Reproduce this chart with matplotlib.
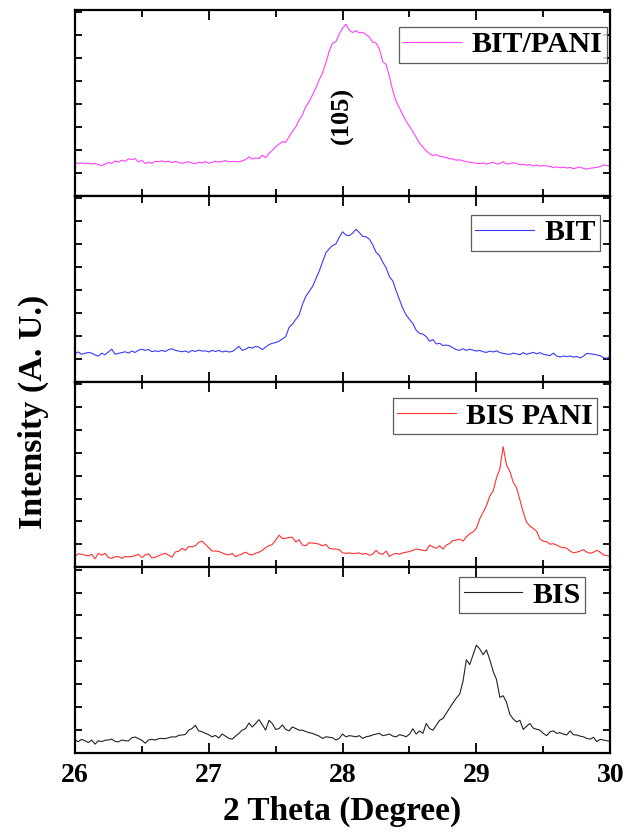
import numpy as np
import matplotlib
matplotlib.use('Agg')
import matplotlib.pyplot as plt
from matplotlib.ticker import MultipleLocator

plt.rcParams['font.family'] = ['Liberation Serif', 'DejaVu Serif']
plt.rcParams['font.weight'] = 'bold'

# scan grid: 2 theta from 26 to 30 deg in 0.025 deg steps
two_theta = np.round(np.arange(26.0, 30.0001, 0.025), 3)

# intensities (arbitrary units), one list per sample
bit_pani = [
    1.44, 1.41, 1.43, 1.40, 1.42, 1.39, 1.41, 1.36, 1.31, 1.38,
    1.45, 1.41, 1.52, 1.47, 1.55, 1.50, 1.61, 1.58, 1.62, 1.47,
    1.55, 1.40, 1.46, 1.42, 1.50, 1.49, 1.52, 1.48, 1.51, 1.44,
    1.50, 1.46, 1.41, 1.45, 1.49, 1.43, 1.40, 1.47, 1.43, 1.49,
    1.42, 1.46, 1.51, 1.47, 1.50, 1.53, 1.48, 1.50, 1.49, 1.48,
    1.52, 1.58, 1.70, 1.60, 1.65, 1.62, 1.77, 1.66, 1.85, 1.98,
    2.14, 2.25, 2.36, 2.33, 2.58, 2.80, 3.00, 3.30, 3.53, 3.90,
    4.10, 4.40, 4.70, 5.05, 5.36, 5.80, 6.30, 6.65, 6.72, 7.05,
    7.30, 7.48, 7.22, 7.12, 7.20, 7.10, 7.13, 7.03, 6.92, 6.70,
    6.66, 6.40, 5.85, 5.72, 5.20, 4.58, 4.12, 3.82, 3.53, 3.25,
    3.02, 2.80, 2.55, 2.30, 2.12, 1.96, 1.83, 1.76, 1.79, 1.72,
    1.70, 1.66, 1.62, 1.60, 1.55, 1.57, 1.52, 1.49, 1.46, 1.44,
    1.42, 1.40, 1.43, 1.38, 1.42, 1.47, 1.39, 1.40, 1.49, 1.38,
    1.40, 1.44, 1.41, 1.35, 1.38, 1.33, 1.36, 1.30, 1.34, 1.29,
    1.32, 1.30, 1.28, 1.23, 1.26, 1.22, 1.25, 1.21, 1.24, 1.18,
    1.22, 1.26, 1.19, 1.16, 1.20, 1.22, 1.24, 1.27, 1.35, 1.31,
    1.33,
]
bit = [
    1.21, 1.29, 1.19, 1.23, 1.27, 1.24, 1.16, 1.11, 1.24, 1.17,
    1.29, 1.41, 1.19, 1.23, 1.26, 1.30, 1.24, 1.33, 1.27, 1.37,
    1.41, 1.36, 1.40, 1.30, 1.34, 1.31, 1.36, 1.31, 1.39, 1.43,
    1.36, 1.33, 1.30, 1.33, 1.27, 1.36, 1.31, 1.37, 1.33, 1.34,
    1.29, 1.36, 1.31, 1.36, 1.29, 1.33, 1.29, 1.31, 1.41, 1.53,
    1.36, 1.41, 1.50, 1.46, 1.53, 1.50, 1.39, 1.50, 1.61, 1.67,
    1.70, 1.76, 1.86, 1.96, 2.36, 2.50, 2.71, 2.90, 3.36, 3.71,
    3.93, 4.14, 4.47, 4.81, 5.21, 5.61, 5.79, 5.93, 6.00, 6.29,
    6.53, 6.39, 6.36, 6.47, 6.64, 6.50, 6.33, 6.31, 6.21, 5.96,
    5.64, 5.50, 5.21, 4.96, 4.57, 4.39, 3.96, 3.57, 3.19, 2.90,
    2.71, 2.53, 2.24, 2.10, 2.07, 1.96, 1.76, 1.83, 1.64, 1.67,
    1.57, 1.59, 1.56, 1.47, 1.39, 1.36, 1.43, 1.36, 1.41, 1.37,
    1.33, 1.36, 1.30, 1.27, 1.33, 1.29, 1.34, 1.26, 1.23, 1.20,
    1.19, 1.24, 1.21, 1.17, 1.26, 1.19, 1.23, 1.27, 1.21, 1.26,
    1.19, 1.16, 1.13, 1.24, 1.11, 1.07, 1.11, 1.09, 1.11, 1.07,
    1.09, 1.03, 1.11, 1.23, 1.21, 1.19, 1.16, 1.13, 1.04, 1.01,
    1.13,
]
bis_pani = [
    0.47, 0.59, 0.57, 0.53, 0.50, 0.57, 0.37, 0.61, 0.53, 0.61,
    0.43, 0.39, 0.46, 0.47, 0.39, 0.47, 0.46, 0.47, 0.51, 0.57,
    0.43, 0.54, 0.59, 0.41, 0.44, 0.50, 0.57, 0.61, 0.53, 0.44,
    0.67, 0.70, 0.83, 0.74, 0.91, 0.89, 0.94, 1.09, 1.14, 1.00,
    0.86, 0.71, 0.71, 0.69, 0.63, 0.57, 0.54, 0.61, 0.46, 0.53,
    0.59, 0.66, 0.57, 0.54, 0.61, 0.66, 0.74, 0.86, 0.94, 1.00,
    1.19, 1.40, 1.26, 1.27, 1.30, 1.31, 1.11, 1.20, 0.97, 0.94,
    1.07, 1.06, 1.04, 1.01, 0.94, 1.00, 0.83, 0.80, 0.80, 0.77,
    0.63, 0.61, 0.63, 0.60, 0.61, 0.63, 0.57, 0.60, 0.53, 0.57,
    0.74, 0.60, 0.57, 0.71, 0.47, 0.57, 0.61, 0.57, 0.63, 0.66,
    0.69, 0.74, 0.80, 0.77, 0.74, 0.73, 0.97, 0.89, 0.83, 0.94,
    0.80, 0.97, 1.04, 1.17, 1.19, 1.23, 1.14, 1.33, 1.46, 1.54,
    1.71, 2.11, 2.40, 2.69, 3.11, 3.33, 3.90, 4.29, 5.26, 4.46,
    4.19, 3.71, 3.47, 2.94, 2.40, 1.97, 1.80, 1.69, 1.57, 1.23,
    1.14, 1.11, 1.01, 1.03, 0.97, 0.89, 0.86, 0.83, 0.71, 0.63,
    0.66, 0.71, 0.77, 0.66, 0.61, 0.66, 0.74, 0.66, 0.54, 0.51,
    0.49,
]
bis = [
    0.57, 0.50, 0.60, 0.54, 0.46, 0.57, 0.39, 0.54, 0.50, 0.56,
    0.57, 0.61, 0.51, 0.49, 0.57, 0.54, 0.53, 0.67, 0.70, 0.63,
    0.56, 0.43, 0.57, 0.60, 0.57, 0.63, 0.64, 0.63, 0.67, 0.71,
    0.70, 0.77, 0.79, 0.81, 1.00, 1.07, 1.21, 0.97, 0.93, 0.86,
    0.80, 0.71, 0.77, 0.66, 0.83, 0.74, 0.64, 0.61, 0.74, 0.86,
    1.00, 1.07, 1.31, 1.14, 1.29, 1.46, 1.24, 1.00, 1.43, 1.29,
    1.03, 1.07, 1.23, 1.03, 0.97, 1.14, 1.07, 1.00, 1.00, 0.94,
    0.89, 0.86, 0.80, 0.74, 0.64, 0.71, 0.69, 0.67, 0.57, 0.64,
    0.83, 0.71, 0.76, 0.74, 0.71, 0.76, 0.64, 0.71, 0.74, 0.79,
    0.83, 0.86, 0.76, 0.79, 0.83, 0.74, 0.71, 0.80, 0.77, 0.71,
    0.83, 1.06, 0.83, 0.97, 0.86, 1.29, 1.07, 1.00, 1.21, 1.43,
    1.51, 1.74, 1.97, 2.19, 2.40, 2.57, 3.14, 4.07, 3.86, 4.29,
    4.71, 4.54, 4.29, 4.50, 4.07, 3.57, 3.21, 2.43, 2.50, 2.21,
    1.69, 1.49, 1.36, 1.43, 1.03, 1.17, 1.29, 1.09, 1.04, 1.00,
    0.86, 0.76, 0.93, 0.97, 0.86, 0.89, 0.83, 0.79, 0.97, 0.80,
    0.79, 0.74, 0.71, 0.64, 0.61, 0.69, 0.50, 0.60, 0.57, 0.54,
    0.50,
]

series = [bit_pani, bit, bis_pani, bis]
names = ['BIT/PANI', 'BIT', 'BIS PANI', 'BIS']
colors = ['#ff40ff', '#3a3aff', '#ff3030', '#222222']
# legend box corner (upper right) in axes coords for each panel
leg_anchor = [(0.994, 0.909), (0.981, 0.898), (0.976, 0.909), (0.953, 0.946)]

fig, axes = plt.subplots(4, 1, sharex=True, figsize=(6.35, 8.34), dpi=100)
fig.subplots_adjust(left=0.118, right=0.961, top=0.988, bottom=0.097, hspace=0)

for ax, y, name, c, anc in zip(axes, series, names, colors, leg_anchor):
    ax.plot(two_theta, y, color=c, lw=0.8, label=name)
    ax.set_xlim(26, 30)
    ax.set_ylim(0, 8.1)
    ax.yaxis.set_major_locator(MultipleLocator(1))
    ax.xaxis.set_major_locator(MultipleLocator(1))
    ax.xaxis.set_minor_locator(MultipleLocator(0.5))
    ax.tick_params(which='both', direction='in', top=True, right=True,
                   width=1.3, labelleft=False)
    ax.tick_params(axis='y', which='major', length=5)
    ax.tick_params(axis='x', which='major', length=7)
    ax.tick_params(axis='x', which='minor', length=5)
    for s in ax.spines.values():
        s.set_linewidth(1.6)
    leg = ax.legend(loc='upper right', bbox_to_anchor=anc, frameon=True,
                    fancybox=False, borderaxespad=0, borderpad=0.15,
                    handlelength=1.95, handletextpad=0.35,
                    prop={'family': 'Liberation Serif', 'weight': 'bold', 'size': 21.5})
    leg.get_frame().set_edgecolor('#333333')
    leg.get_frame().set_linewidth(0.9)

axes[-1].tick_params(axis='x', labelsize=20, pad=7)
for lab in axes[-1].get_xticklabels():
    lab.set_fontweight('bold')

# peak index on the BIT/PANI trace
axes[0].text(28.0, 3.5, '(105)', rotation=90, ha='center', va='center',
             fontsize=19, fontweight='bold')

axes[-1].set_xlabel('2 Theta (Degree)', fontsize=24, fontweight='bold', labelpad=6)
fig.text(0.052, 0.506, 'Intensity (A. U.)', rotation=90, ha='center', va='center',
         fontsize=24.5, fontweight='bold')

plt.savefig('out.png', dpi=100)
